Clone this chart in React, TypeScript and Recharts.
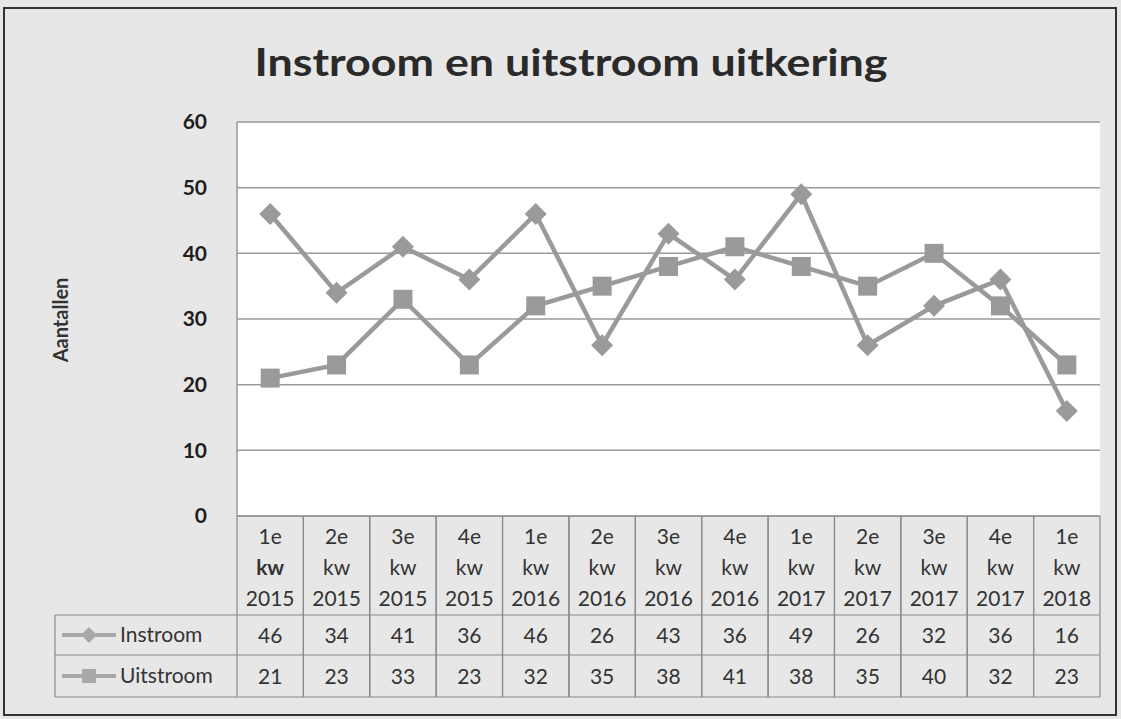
import React from "react";
import { LineChart, Line, XAxis, YAxis, CartesianGrid, Customized } from "recharts";

const categories = ["1e kw 2015", "2e kw 2015", "3e kw 2015", "4e kw 2015", "1e kw 2016", "2e kw 2016", "3e kw 2016", "4e kw 2016", "1e kw 2017", "2e kw 2017", "3e kw 2017", "4e kw 2017", "1e kw 2018"];
const instroom = [46, 34, 41, 36, 46, 26, 43, 36, 49, 26, 32, 36, 16];
const uitstroom = [21, 23, 33, 23, 32, 35, 38, 41, 38, 35, 40, 32, 23];
const yTicks = [0, 10, 20, 30, 40, 50, 60];
const seriesNames = ["Instroom", "Uitstroom"];

const data = categories.map((c, i) => ({ cat: c, instroom: instroom[i], uitstroom: uitstroom[i] }));

const W = 1121;
const H = 719;
const PLOT_L = 237;
const PLOT_T = 122;
const M = { top: PLOT_T, right: 21, bottom: 0, left: 0 };
const PLOT_R = W - M.right;
const X_H = 203;
const PLOT_B = H - X_H;
const COL = (PLOT_R - PLOT_L) / categories.length;
const FONT = "Lato, 'Open Sans', sans-serif";
const LINE = "#9a9a9a";
const TEXT = "#333333";
const ROW1 = 99;
const ROW2 = 40;
const ROW3 = 42;
const TABLE_L = 55;
const FS = 21;

const Diamond = (props: any) => {
  const { cx, cy } = props;
  if (cx == null || cy == null) return null;
  const r = 11;
  return <polygon points={`${cx},${cy - r} ${cx + r},${cy} ${cx},${cy + r} ${cx - r},${cy}`} fill={LINE} />;
};
const Square = (props: any) => {
  const { cx, cy } = props;
  if (cx == null || cy == null) return null;
  const r = 9.5;
  return <rect x={cx - r} y={cy - r} width={2 * r} height={2 * r} fill={LINE} />;
};

const ColumnTick = (props: any) => {
  const { x, y, payload } = props;
  const idx = payload.index;
  const parts = String(payload.value).split(" ");
  const top = y;
  const xl = x - COL / 2;
  const xr = x + COL / 2;
  return (
    <g>
      <line x1={xl} y1={top} x2={xl} y2={top + ROW1 + ROW2 + ROW3} stroke="#8a8a8a" strokeWidth={1.2} />
      <line x1={xr} y1={top} x2={xr} y2={top + ROW1 + ROW2 + ROW3} stroke="#8a8a8a" strokeWidth={1.2} />
      {parts.map((p, k) => (
        <text key={k} x={x} y={top + 28 + k * 31} textAnchor="middle" fontFamily={FONT} fontSize={FS} fill={TEXT} fontWeight={k === 1 && idx === 0 ? "bold" : "normal"}>
          {p}
        </text>
      ))}
      <text x={x} y={top + ROW1 + 28} textAnchor="middle" fontFamily={FONT} fontSize={FS} fill={TEXT}>
        {instroom[idx]}
      </text>
      <text x={x} y={top + ROW1 + ROW2 + 29} textAnchor="middle" fontFamily={FONT} fontSize={FS} fill={TEXT}>
        {uitstroom[idx]}
      </text>
    </g>
  );
};

const Decor = () => {
  const y1 = PLOT_B + ROW1;
  const y2 = y1 + ROW2;
  const y3 = y2 + ROW3;
  const ly1 = y1 + ROW2 / 2;
  const ly2 = y2 + ROW3 / 2;
  return (
    <g>
      <text x={571} y={76} textAnchor="middle" fontFamily={FONT} fontWeight="bold" fontSize={38} fill="#2a2a2a" textLength={633} lengthAdjust="spacingAndGlyphs">
        Instroom en uitstroom uitkering
      </text>
      <text x={0} y={0} transform={`translate(68, 320) rotate(-90)`} textAnchor="middle" fontFamily={FONT} fontWeight="bold" fontSize={20} fill={TEXT}>
        Aantallen
      </text>
      <line x1={PLOT_L} y1={PLOT_B} x2={PLOT_R} y2={PLOT_B} stroke="#8a8a8a" strokeWidth={1.2} />
      <line x1={TABLE_L} y1={y1} x2={PLOT_R} y2={y1} stroke="#8a8a8a" strokeWidth={1.2} />
      <line x1={TABLE_L} y1={y2} x2={PLOT_R} y2={y2} stroke="#8a8a8a" strokeWidth={1.2} />
      <line x1={TABLE_L} y1={y3} x2={PLOT_R} y2={y3} stroke="#8a8a8a" strokeWidth={1.2} />
      <line x1={TABLE_L} y1={y1} x2={TABLE_L} y2={y3} stroke="#8a8a8a" strokeWidth={1.2} />
      <line x1={62} y1={ly1} x2={116} y2={ly1} stroke="#a8a8a8" strokeWidth={4} />
      <polygon points={`89,${ly1 - 8} 97,${ly1} 89,${ly1 + 8} 81,${ly1}`} fill="#a8a8a8" />
      <line x1={62} y1={ly2} x2={116} y2={ly2} stroke="#a8a8a8" strokeWidth={4} />
      <rect x={82} y={ly2 - 7} width={14} height={14} fill="#a8a8a8" />
      <text x={120} y={ly1 + 7} fontFamily={FONT} fontSize={FS} fill={TEXT}>{seriesNames[0]}</text>
      <text x={120} y={ly2 + 7} fontFamily={FONT} fontSize={FS} fill={TEXT}>{seriesNames[1]}</text>
      <rect x={4} y={8} width={1112} height={707} fill="none" stroke="#333" strokeWidth={2} />
    </g>
  );
};

export default function App() {
  return (
    <div style={{ position: "absolute", left: 0, top: 0, width: W, height: H, background: "#e7e7e7" }}>
      <LineChart width={W} height={H} data={data} margin={M}>
        <CartesianGrid horizontal vertical={false} stroke={LINE} strokeWidth={1.5} fill="#ffffff" fillOpacity={1} />
        <XAxis dataKey="cat" scale="band" interval={0} tickLine={false} axisLine={false} tickSize={0} tickMargin={0} height={X_H} tick={<ColumnTick />} />
        <YAxis domain={[0, 60]} ticks={yTicks} width={PLOT_L} tickLine={false} axisLine={{ stroke: LINE, strokeWidth: 1.5 }} tickMargin={24} tick={{ fill: "#1e1e1e", fontSize: 21, fontWeight: "bold", fontFamily: FONT }} />
        <Line dataKey="instroom" name={seriesNames[0]} stroke={LINE} strokeWidth={4.5} dot={<Diamond />} activeDot={false} isAnimationActive={false} />
        <Line dataKey="uitstroom" name={seriesNames[1]} stroke={LINE} strokeWidth={4.5} dot={<Square />} activeDot={false} isAnimationActive={false} />
        <Customized component={Decor} />
      </LineChart>
    </div>
  );
}
